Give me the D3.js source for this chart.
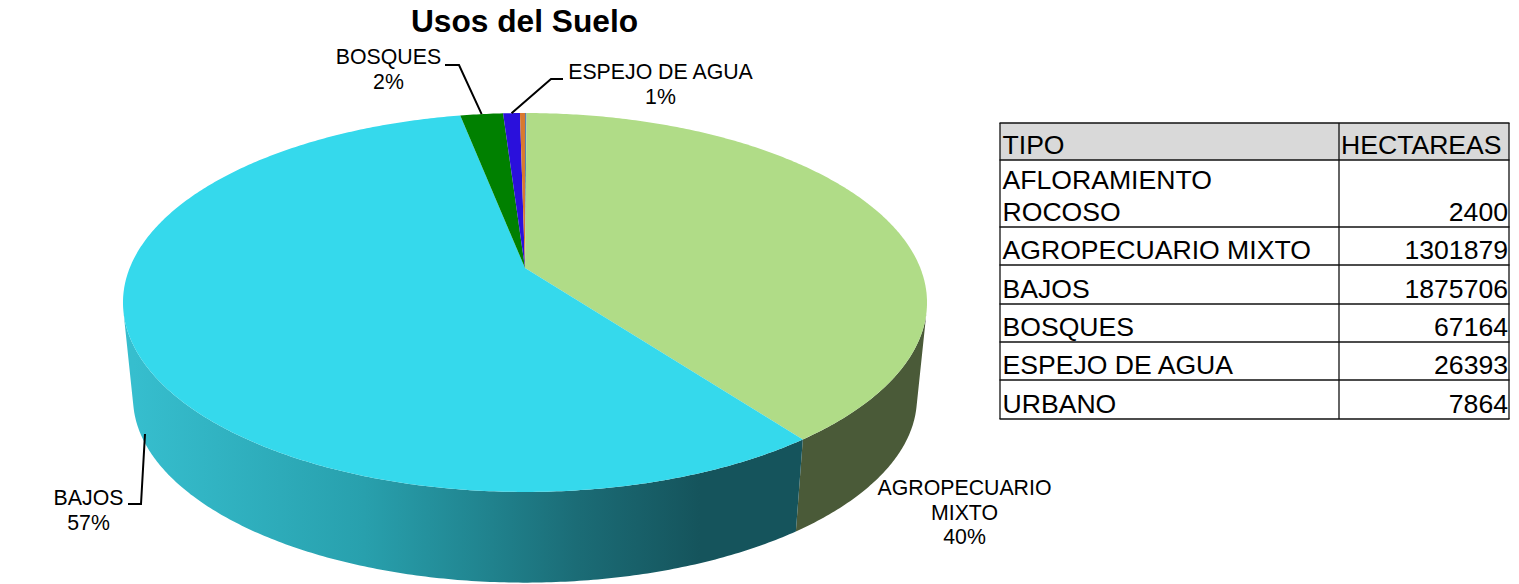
<!DOCTYPE html>
<html>
<head>
<meta charset="utf-8">
<script src="https://cdn.jsdelivr.net/npm/d3@7"></script>
<style>
  body { margin:0; background:#fff; }
  text { font-family:"Liberation Sans", Arial, sans-serif; fill:#000; }
</style>
</head>
<body>
<div id="chart-area"></div>
<script>
/* Data */
var tipos = ["AFLORAMIENTO ROCOSO","AGROPECUARIO MIXTO","BAJOS","BOSQUES","ESPEJO DE AGUA","URBANO"];
var hectareas = [2400,1301879,1875706,67164,26393,7864];
var topColors = ["#5F82A8","#B0DC87","#35D9EC","#008000","#2A10DC","#D9792F"];
var sideColors = ["#33475C","#4A5A38","url(#bajosSide)","#004000","#150870","#6C3C18"];

var width = 1519, height = 584;

var svg = d3.select("#chart-area").append("svg")
  .attr("width", width)
  .attr("height", height)
  .style("display","block");

/* Side gradient of the big slice */
var grad = svg.append("defs").append("linearGradient")
  .attr("id","bajosSide")
  .attr("gradientUnits","userSpaceOnUse")
  .attr("x1",133).attr("x2",800).attr("y1",0).attr("y2",0);
grad.append("stop").attr("offset","0%").attr("stop-color","#36BECE");
grad.append("stop").attr("offset","34.6%").attr("stop-color","#28A0AD");
grad.append("stop").attr("offset","53.8%").attr("stop-color","#20828D");
grad.append("stop").attr("offset","66.6%").attr("stop-color","#1B6C76");
grad.append("stop").attr("offset","85%").attr("stop-color","#15545C");
grad.append("stop").attr("offset","100%").attr("stop-color","#15545C");

/* Perspective of the disc: scales from the unit circle to the page */
var cx = 525, tilt = -0.182;
var xScale = d3.scaleLinear().domain([-1,1]).range([cx-395.3,cx+395.3]);
var yScale = d3.scaleLinear().domain([-1,1]).range([133.6,402.4]);
var vanishY = 4120, depth = 0.975;

function project(angle){
  var u = Math.sin(angle), v = -Math.cos(angle), w = 1 + tilt*v;
  return [cx + (xScale(u)-cx)/w, yScale(v)/w];
}
function projectLow(angle){
  var p = project(angle);
  return [cx + (p[0]-cx)*depth, vanishY + (p[1]-vanishY)*depth];
}

var pie = d3.pie().sort(null)(hectareas);
var total = d3.sum(hectareas);
var line = d3.line();

function arcAngles(a0,a1){
  var n = Math.max(1, Math.ceil((a1-a0)/0.01));
  return d3.range(n+1).map(function(i){ return a0 + (a1-a0)*i/n; });
}

/* Side wall: only the front part, between the two tangent points */
var frontStart = Math.acos(-0.2276), frontEnd = 2*Math.PI-frontStart;

svg.append("g").selectAll("path")
  .data(pie.filter(function(d){ return d.endAngle>frontStart && d.startAngle<frontEnd; }))
  .enter().append("path")
    .attr("d", function(d){
      var a = arcAngles(Math.max(d.startAngle,frontStart),Math.min(d.endAngle,frontEnd));
      return line(a.map(project).concat(a.slice().reverse().map(projectLow)))+"Z";
    })
    .attr("fill", function(d){ return sideColors[d.index]; });

/* Top face */
svg.append("g").selectAll("path")
  .data(pie)
  .enter().append("path")
    .attr("d", function(d){ return line([[cx,268]].concat(arcAngles(d.startAngle,d.endAngle).map(project)))+"Z"; })
    .attr("fill", function(d){ return topColors[d.index]; });

/* Labels */
function pct(i){ return Math.round(hectareas[i]/total*100)+"%"; }
function mid(i){ return (pie[i].startAngle+pie[i].endAngle)/2; }

var labels = [
  {i:3, x:388.5, y:64, lines:["BOSQUES",pct(3)]},
  {i:4, x:660.5, y:79, lines:["ESPEJO DE AGUA",pct(4)]},
  {i:2, x:88.5, y:505, lines:["BAJOS",pct(2)]},
  {i:1, x:964.5, y:495, lines:["AGROPECUARIO","MIXTO",pct(1)]}
];
var lab = svg.append("g").selectAll("text")
  .data(labels)
  .enter().append("text")
    .attr("text-anchor","middle")
    .attr("font-size","21.3px");
lab.selectAll("tspan")
  .data(function(d){ return d.lines.map(function(t,k){ return {t:t,k:k,d:d}; }); })
  .enter().append("tspan")
    .attr("x",function(e){ return e.d.x; })
    .attr("y",function(e){ return e.d.y + e.k*24.7; })
    .text(function(e){ return e.t; });

/* Leader lines */
var leaders = [
  [project(mid(3)),[459,65],[445,65]],
  [project(mid(4)),[551,79],[563,79]],
  [[145,434],[141,504],[128,504]]
];
svg.append("g").selectAll("path")
  .data(leaders)
  .enter().append("path")
    .attr("d", function(d){ return line(d); })
    .attr("fill","none")
    .attr("stroke","#000")
    .attr("stroke-width",2);

/* Title */
svg.append("text")
  .attr("x",524.5).attr("y",32)
  .attr("text-anchor","middle")
  .attr("font-size","31.7px")
  .attr("font-weight","bold")
  .text("Usos del Suelo");

/* Table */
var colX = [1000,1339,1509];
var rowY = [123,160,227,265,304,342,380,419];
var tableRows = [["TIPO","HECTAREAS"]].concat(tipos.map(function(t,i){ return [t,hectareas[i]]; }));

var gTable = svg.append("g");
gTable.append("rect")
  .attr("x",colX[0]).attr("y",rowY[0])
  .attr("width",colX[2]-colX[0]).attr("height",rowY[1]-rowY[0])
  .attr("fill","#D9D9D9");
gTable.selectAll("line.h")
  .data(rowY).enter().append("line").attr("class","h")
  .attr("x1",colX[0]-0.5).attr("x2",colX[2]+0.5)
  .attr("y1",function(d){ return d; }).attr("y2",function(d){ return d; })
  .attr("stroke","#111").attr("stroke-width",1.3);
gTable.selectAll("line.v")
  .data(colX).enter().append("line").attr("class","v")
  .attr("x1",function(d){ return d; }).attr("x2",function(d){ return d; })
  .attr("y1",rowY[0]).attr("y2",rowY[7])
  .attr("stroke","#111").attr("stroke-width",1.3);

tableRows.forEach(function(r,i){
  var base = rowY[i+1]-6;
  var first = i==1 ? ["AFLORAMIENTO","ROCOSO"] : [r[0]];
  first.forEach(function(t,k){
    gTable.append("text")
      .attr("x",colX[0]+2.5)
      .attr("y",base-(first.length-1-k)*32.5)
      .attr("font-size","26.6px")
      .text(t);
  });
  gTable.append("text")
    .attr("x", i==0 ? colX[1]+2 : colX[2]-1)
    .attr("y",base)
    .attr("text-anchor", i==0 ? "start" : "end")
    .attr("font-size","26.6px")
    .text(r[1]);
});
</script>
</body>
</html>
